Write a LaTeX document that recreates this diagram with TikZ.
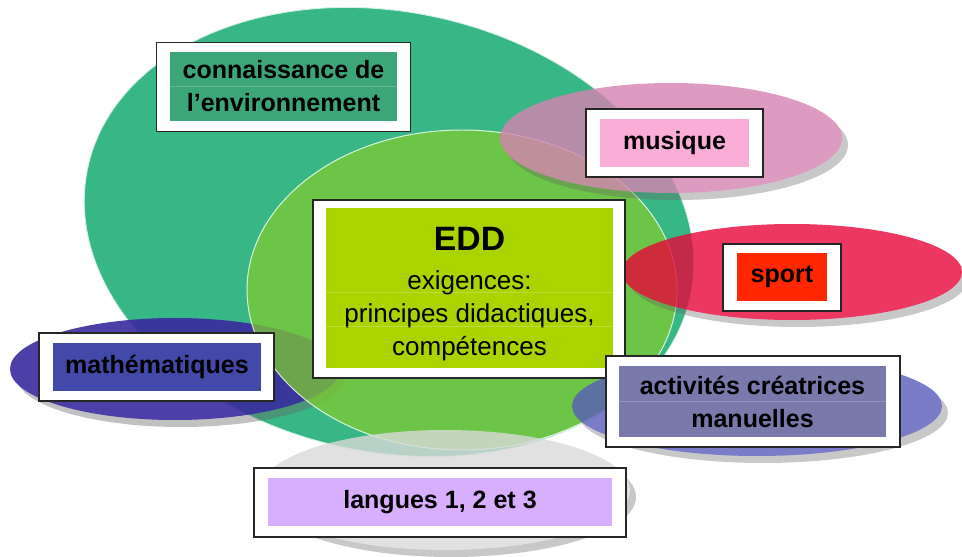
\documentclass[tikz,border=0pt]{standalone}
\usepackage{fontspec}
\setmainfont{Liberation Sans}

\definecolor{envgreen}{HTML}{37B786}
\definecolor{envbox}{HTML}{3CA679}
\definecolor{eddgreen}{HTML}{7ECB31}
\definecolor{eddbox}{HTML}{AAD400}
\definecolor{muspink}{HTML}{D682B2}
\definecolor{musbox}{HTML}{FAADD7}
\definecolor{sportred}{HTML}{E70639}
\definecolor{sportbox}{HTML}{FF2600}
\definecolor{actblue}{HTML}{5A5BBA}
\definecolor{actbox}{HTML}{7A79AC}
\definecolor{mathblue}{HTML}{3A2A9F}
\definecolor{mathbox}{HTML}{4349A8}
\definecolor{langgrey}{HTML}{D9D9D9}
\definecolor{langbox}{HTML}{D8AEFF}

\newcommand{\pix}{0.025cm}
% ellipse with its shadow: x, y, x radius, y radius, colour, opacity
\newcommand{\blob}[6]{%
  \begin{scope}[transparency group, opacity=#6]
    \fill[black!60, opacity=0.45] (#1+6,#2+7) ellipse [x radius=#3, y radius=#4];
    \fill[#5] (#1,#2) ellipse [x radius=#3, y radius=#4];
  \end{scope}}

\tikzstyle{frame} = [rectangle, draw=black!85, fill=white, line width=0.9pt, inner sep=0pt]
\tikzstyle{tag} = [rectangle, inner sep=0pt, align=center, text=black, font=\fontsize{17.8}{23.5}\selectfont\bfseries]
\tikzstyle{rowsep} = [draw=white, opacity=0.2, line width=0.6pt]

\begin{document}
\begin{tikzpicture}[x=\pix, y=-\pix]
        \useasboundingbox (0,0) rectangle (962,557);

        % circles
        \fill[envgreen, draw=white!80!envgreen, line width=0.6pt, rotate around={-12:(389,232)}] (389,232) ellipse [x radius=308, y radius=220];
        \blob{175}{369}{165}{51}{mathblue}{0.9}
        \fill[eddgreen, draw=white, draw opacity=0.8, fill opacity=0.75, line width=0.7pt] (462,290) ellipse [x radius=215, y radius=160];
        \blob{445}{490}{185}{60}{langgrey}{0.8}
        \blob{671}{138}{171}{55}{muspink}{0.8}
        \blob{792}{272}{170}{48}{sportred}{0.8}
        \blob{757}{406}{185}{50}{actblue}{0.8}

        % boxes
        \node (Env Frame) [frame, minimum width=254*\pix, minimum height=89*\pix] at (283.5,87) {};
        \node (Env) [tag, fill=envbox, minimum width=227*\pix, minimum height=69*\pix] at (283.5,86.5) {connaissance de\\ l’environnement};
        \node (Mus Frame) [frame, minimum width=177*\pix, minimum height=68*\pix] at (674.5,143) {};
        \node (Mus) [tag, fill=musbox, minimum width=149*\pix, minimum height=48*\pix] at (674.5,143) {musique};
        \node (Sport Frame) [frame, minimum width=118*\pix, minimum height=67*\pix] at (782,277.5) {};
        \node (Sport) [tag, fill=sportbox, minimum width=90*\pix, minimum height=48*\pix] at (782,277) {sport};
        \node (Math Frame) [frame, minimum width=235*\pix, minimum height=68*\pix] at (156.5,367) {};
        \node (Math) [tag, fill=mathbox, minimum width=208*\pix, minimum height=48*\pix] at (157,367) {mathématiques};
        \node (EDD Frame) [frame, minimum width=312*\pix, minimum height=178*\pix] at (469,289) {};
        \node (EDD) [tag, fill=eddbox, minimum width=287*\pix, minimum height=160*\pix, font=\fontsize{18.5}{23.5}\selectfont] at (469.5,288)
              {\rule{0pt}{25pt}{\fontsize{24}{26}\selectfont\bfseries EDD}\\[4pt] exigences:\\ principes didactiques,\\ compétences};
        \node (Act Frame) [frame, minimum width=294*\pix, minimum height=91*\pix] at (753,401.5) {};
        \node (Act) [tag, fill=actbox, minimum width=267*\pix, minimum height=71*\pix] at (752.5,401.5) {activités créatrices\\ manuelles};
        \node (Lang Frame) [frame, minimum width=372*\pix, minimum height=69*\pix] at (440,502.5) {};
        \node (Lang) [tag, fill=langbox, minimum width=344*\pix, minimum height=48*\pix] at (440,502) {langues 1, 2 et 3};

        % row lines
        \draw [rowsep] (Env.west) -- (Env.east);
        \draw [rowsep] (Act.west) -- (Act.east);
        \draw [rowsep] ([yshift=76*\pix]EDD.south west) -- ([yshift=76*\pix]EDD.south east);
        \draw [rowsep] ([yshift=42*\pix]EDD.south west) -- ([yshift=42*\pix]EDD.south east);
    \end{tikzpicture}
\end{document}
